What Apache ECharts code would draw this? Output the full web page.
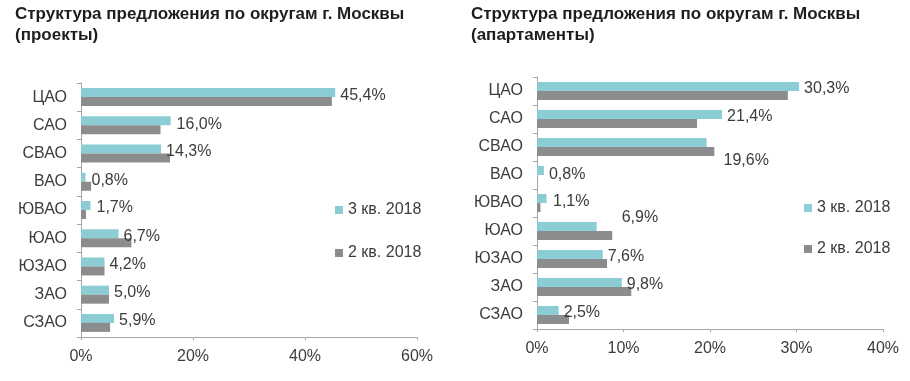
<!DOCTYPE html>
<html><head><meta charset="utf-8">
<script src="https://cdn.jsdelivr.net/npm/echarts@6/dist/echarts.min.js"></script>
<style>html,body{margin:0;padding:0;background:#fff}#c{width:910px;height:381px}</style>
</head><body><div id="c"></div>
<script>
var categories = ['ЦАО','САО','СВАО','ВАО','ЮВАО','ЮАО','ЮЗАО','ЗАО','СЗАО'];
var seriesNames = ['3 кв. 2018','2 кв. 2018'];
var projQ3 = [45.4,16.0,14.3,0.8,1.7,6.7,4.2,5.0,5.9];
var projQ2 = [44.8,14.2,15.9,1.8,0.9,9.0,4.2,5.0,5.2];
var aptQ3 = [30.3,21.4,19.6,0.8,1.1,6.9,7.6,9.8,2.5];
var aptQ2 = [29.0,18.5,20.5,0.0,0.4,8.7,8.1,10.9,3.7];
var titles = ['Структура предложения по округам г. Москвы\n(проекты)','Структура предложения по округам г. Москвы\n(апартаменты)'];
var axisMax = [60, 40];
var axisInterval = [20, 10];
// label placement tweaks (style only)
var projLabelOffsets = [[5,2.5],[6,3.5],[5,3],[6,3],[6,2.5],[5,3],[5,2.5],[5,2],[5,2]];
var aptLabelOffsets = [[5,2.5],[5,2.5],[17,18],[5,4.5],[6.5,3],[25,-9],[5,2.5],[5,2],[5,2]];

var C1 = '#8cccd4', C2 = '#8a8c8e', TXT = '#3c3c3c', AX = '#a6a6a6';
var FONT = 'Liberation Sans, Arial, sans-serif';
function fmt(v){ return v.toFixed(1).replace('.', ',') + '%'; }
var grids = [
  {left:81, top:83, width:336, height:254},
  {left:537, top:77, width:346, height:252}
];
var chart = echarts.init(document.getElementById('c'), null, {renderer:'canvas'});
var xAxes = [], yAxes = [], series = [];
[0,1].forEach(function(i){
  xAxes.push({type:'value', gridIndex:i, min:0, max:axisMax[i], interval:axisInterval[i],
    axisLine:{show:true, lineStyle:{color:AX, width:1}},
    axisTick:{show:true, length:3, lineStyle:{color:AX}},
    splitLine:{show:false},
    axisLabel:{formatter:'{value}%', color:TXT, fontSize:16, fontFamily:FONT, margin:12}});
  yAxes.push({type:'category', gridIndex:i, data:categories, inverse:true,
    axisLine:{show:true, lineStyle:{color:AX, width:1}},
    axisTick:{show:true, length:4, lineStyle:{color:AX}},
    axisLabel:{color:TXT, fontSize:16, fontFamily:FONT, margin:14}});
});
var q3 = [projQ3, aptQ3], q2 = [projQ2, aptQ2], offs = [projLabelOffsets, aptLabelOffsets];
[0,1].forEach(function(i){
  series.push({name:seriesNames[0], type:'bar', xAxisIndex:i, yAxisIndex:i, barWidth:9, barGap:'0%',
    itemStyle:{color:C1},
    data:q3[i].map(function(v,k){ return {value:v, label:{offset:offs[i][k]}}; }),
    label:{show:true, position:'right', distance:0, color:TXT, fontSize:16, fontFamily:FONT,
      formatter:function(p){ return fmt(p.value); }}});
  series.push({name:seriesNames[1], type:'bar', xAxisIndex:i, yAxisIndex:i, barWidth:9, barGap:'0%',
    itemStyle:{color:C2}, data:q2[i]});
});
chart.setOption({
  animation:false,
  backgroundColor:'#fff',
  title:[
    {text:titles[0], left:15, top:4, padding:0, textStyle:{fontSize:17, fontWeight:'bold', color:'#1e1e1e', fontFamily:FONT, lineHeight:21}},
    {text:titles[1], left:471, top:4, padding:0, textStyle:{fontSize:17, fontWeight:'bold', color:'#1e1e1e', fontFamily:FONT, lineHeight:21}}
  ],
  legend:[
    {orient:'vertical', left:330, top:197, itemWidth:8, itemHeight:8, itemGap:27, icon:'rect', data:seriesNames,
      textStyle:{color:TXT, fontSize:16, fontFamily:FONT}},
    {orient:'vertical', left:799, top:195, itemWidth:8, itemHeight:8, itemGap:25, icon:'rect', data:seriesNames,
      textStyle:{color:TXT, fontSize:16, fontFamily:FONT}}
  ],
  grid:grids, xAxis:xAxes, yAxis:yAxes, series:series
});
</script></body></html>
